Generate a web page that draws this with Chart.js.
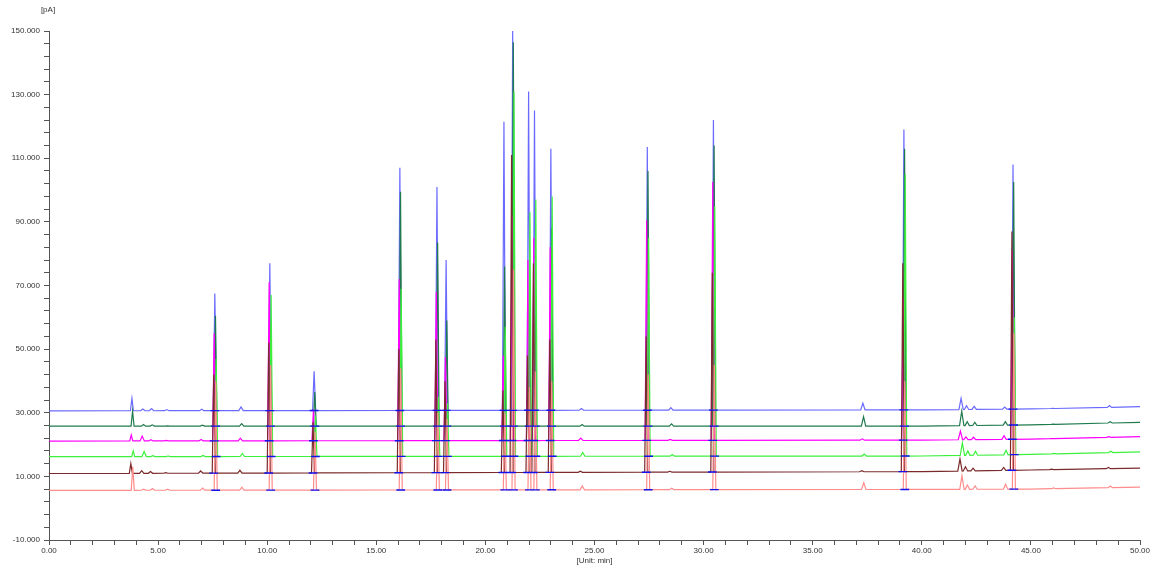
<!DOCTYPE html>
<html lang="en">
<head>
  <meta charset="UTF-8">
  <title>Chromatogram overlay</title>
  <script src="https://cdn.jsdelivr.net/npm/chart.js"></script>
  <style>
    body { margin: 0; background: #fff; }
    #wrap { width: 1158px; height: 570px; }
  </style>
</head>
<body>
  <div id="wrap"><canvas id="gc" width="1158" height="570"></canvas></div>

  <script>
    // retention times (min) of the main peaks
    const majorTimes = [3.8, 7.6, 10.12, 12.15, 16.08, 17.78, 18.2, 20.85, 21.25, 21.98, 22.25, 23.0, 27.42, 30.45, 39.18, 44.18];
    // peaks that carry an integration baseline marker
    const markTimes = [7.6, 10.12, 12.15, 16.08, 17.78, 18.2, 20.85, 21.25, 21.98, 22.25, 23.0, 27.42, 30.45, 39.18, 44.18];
    // small bumps
    const minorTimes = [4.3, 4.7, 5.4, 7.0, 8.8, 24.4, 28.5, 37.3, 41.8, 42.05, 42.4, 43.8, 46.0, 48.6];

    // baseline drift, value at these times
    const baseTimes = [0, 40, 45, 50];

    const blueBase    = [30.6, 30.9, 31.2, 31.9];
    const dkGreenBase = [25.8, 25.8, 26.2, 27.0];
    const magentaBase = [21.1, 21.4, 21.7, 22.5];
    const greenBase   = [16.2, 16.4, 16.9, 17.7];
    const dkRedBase   = [10.9, 11.5, 12.0, 12.6];
    const pinkBase    = [5.6, 5.9, 6.0, 6.6];

    // apex of each main peak [pA]
    const blueApex    = [34.5, 67.5, 77, 43, 107, 101, 78, 121.5, 150, 131, 125, 113, 113.5, 122, 119, 108];
    const dkGreenApex = [30.5, 60.5, 57, 36.5, 99.5, 83.5, 59, 76, 146.5, 64, 60, 88, 106, 114, 113, 102.5];
    const magentaApex = [23, 55, 71, 31, 72, 68, 47.5, 48, 92, 78, 85, 82, 90.5, 102.5, 66, 81];
    const greenApex   = [18, 47, 67, 29, 69, 35, 33, 57, 131, 93, 97, 98, 85, 95, 105, 60];
    const dkRedApex   = [14, 42, 52, 27, 50, 53, 40, 37, 111, 48, 77, 53, 54, 74, 77, 87];
    const pinkApex    = [13, 40, 45, 24, 44, 30, 28, 30, 75, 38, 43, 40, 42, 45, 40, 55];

    // apex of the small bumps [pA]
    const blueBump    = [31.2, 31.3, 31.0, 31.1, 31.8, 31.3, 31.6, 33.0, 34.5, 32.2, 32.0, 31.8, 31.4, 32.3];
    const dkGreenBump = [26.3, 26.2, 25.9, 26.1, 26.6, 26.3, 26.5, 28.8, 30.5, 27.2, 27.0, 27.2, 26.4, 27.2];
    const magentaBump = [22.6, 21.5, 21.3, 21.6, 22.0, 22.0, 21.6, 21.8, 24.2, 22.4, 22.3, 22.8, 21.9, 22.5];
    const greenBump   = [17.8, 16.5, 16.4, 16.6, 17.2, 17.5, 16.9, 17.0, 20.5, 18.0, 17.9, 18.2, 17.2, 17.9];
    const dkRedBump   = [11.8, 11.5, 11.2, 11.7, 11.9, 11.6, 11.6, 11.8, 15.5, 13.0, 12.6, 12.8, 12.3, 12.8];
    const pinkBump    = [6.0, 6.2, 6.0, 6.3, 6.6, 7.0, 6.3, 8.0, 10.2, 7.3, 7.0, 7.5, 6.4, 7.0];

    // retention shift of each run (min)
    const shifts = [0, 0.03, -0.03, 0.06, -0.05, 0.04];

    const yTicksMin = -10, yTicksMax = 150;

    function baseAt(base, t) {
      for (let i = 0; i < baseTimes.length - 1; i++) {
        if (t <= baseTimes[i + 1]) {
          const f = (t - baseTimes[i]) / (baseTimes[i + 1] - baseTimes[i]);
          return base[i] + f * (base[i + 1] - base[i]);
        }
      }
      return base[base.length - 1];
    }

    function buildTrace(base, apex, bump, shift) {
      const pts = baseTimes.map((t, i) => ({ x: t, y: base[i] }));
      majorTimes.forEach((t0, i) => {
        const t = t0 + shift, b = baseAt(base, t);
        pts.push({ x: t - 0.07, y: b }, { x: t, y: apex[i] }, { x: t + 0.07, y: b });
      });
      minorTimes.forEach((t0, i) => {
        const t = t0 + shift, b = baseAt(base, t);
        pts.push({ x: t - 0.1, y: b }, { x: t, y: bump[i] }, { x: t + 0.1, y: b });
      });
      return pts.sort((a, b) => a.x - b.x);
    }

    function buildMarks(bases) {
      const pts = [];
      bases.forEach((base, k) => {
        markTimes.forEach(t0 => {
          const t = t0 + shifts[k], b = baseAt(base, t);
          pts.push({ x: t - 0.2, y: b }, { x: t + 0.2, y: b }, { x: t + 0.2, y: null });
        });
      });
      return pts;
    }

    const runs = [
      { data: buildTrace(blueBase, blueApex, blueBump, shifts[0]), color: '#6a6aff' },
      { data: buildTrace(dkGreenBase, dkGreenApex, dkGreenBump, shifts[1]), color: '#1f7a4c' },
      { data: buildTrace(magentaBase, magentaApex, magentaBump, shifts[2]), color: '#ff00ff' },
      { data: buildTrace(greenBase, greenApex, greenBump, shifts[3]), color: '#3cf03c' },
      { data: buildTrace(dkRedBase, dkRedApex, dkRedBump, shifts[4]), color: '#7a2a2a' },
      { data: buildTrace(pinkBase, pinkApex, pinkBump, shifts[5]), color: '#ff8c8c' }
    ];

    const datasets = runs.map((r, i) => ({
      data: r.data,
      borderColor: r.color,
      borderWidth: 1.2,
      showLine: true,
      pointRadius: 0,
      order: 10 - i
    }));
    datasets.push({
      data: buildMarks([blueBase, dkGreenBase, magentaBase, greenBase, dkRedBase, pinkBase]),
      borderColor: '#1010f0',
      borderWidth: 1.4,
      showLine: true,
      spanGaps: false,
      pointRadius: 0,
      order: 0
    });

    const unitLabel = {
      id: 'unitLabel',
      afterDraw(chart) {
        const c = chart.ctx;
        c.save();
        c.font = '8px "Liberation Sans", Arial, sans-serif';
        c.fillStyle = '#333';
        c.textAlign = 'center';
        c.textBaseline = 'middle';
        c.fillText('[pA]', 48, 10);
        c.restore();
      }
    };

    const tickFont = { family: '"Liberation Sans", Arial, sans-serif', size: 8 };

    new Chart(document.getElementById('gc'), {
      type: 'scatter',
      data: { datasets: datasets },
      plugins: [unitLabel],
      options: {
        responsive: false,
        animation: false,
        layout: { padding: { left: 0, right: 18, top: 31, bottom: 4 } },
        plugins: { legend: { display: false }, tooltip: { enabled: false } },
        scales: {
          x: {
            type: 'linear',
            min: 0,
            max: 50,
            afterFit(s) { s.height = 26; },
            border: { color: '#555', width: 1 },
            grid: { drawOnChartArea: false, drawTicks: true, tickLength: 5, color: '#555' },
            ticks: {
              stepSize: 1,
              autoSkip: false,
              maxRotation: 0,
              padding: 1,
              color: '#333',
              font: tickFont,
              callback: v => (v % 5 === 0 ? v.toFixed(2) : '')
            },
            title: { display: true, text: '[Unit: min]', color: '#333', font: tickFont, padding: { top: 0, bottom: 0 } }
          },
          y: {
            min: yTicksMin,
            max: yTicksMax,
            afterFit(s) { s.width = 49; },
            border: { color: '#555', width: 1 },
            grid: { drawOnChartArea: false, drawTicks: true, tickLength: 5, color: '#555' },
            ticks: {
              stepSize: 4,
              autoSkip: false,
              padding: 4,
              color: '#333',
              font: tickFont,
              callback: v => ((v - yTicksMin) % 20 === 0 ? v.toFixed(3) : '')
            }
          }
        }
      }
    });
  </script>
</body>
</html>
